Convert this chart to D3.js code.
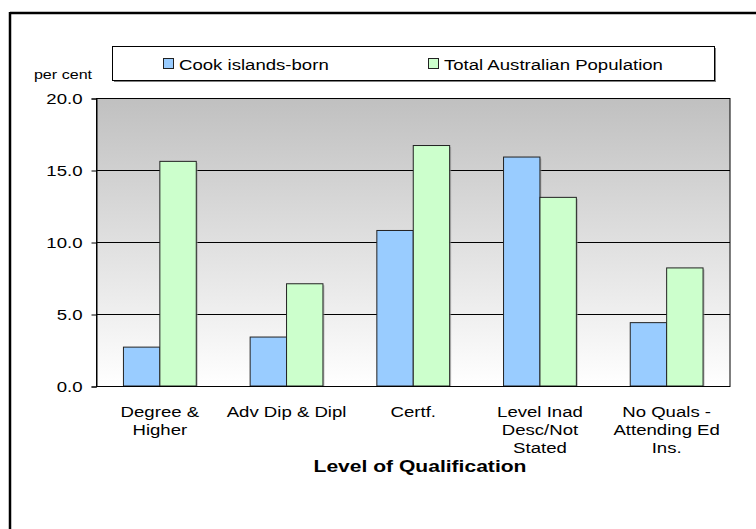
<!DOCTYPE html>
<html><head><meta charset="utf-8">
<script src="https://cdn.jsdelivr.net/npm/d3@7"></script>
<style>body{margin:0;background:#fff}svg{display:block;font-family:"Liberation Sans",Arial,sans-serif}</style>
</head><body>
<script>
const categories = [["Degree &","Higher"],["Adv Dip & Dipl"],["Certf."],["Level Inad","Desc/Not","Stated"],["No Quals -","Attending Ed","Ins."]];
const seriesNames = ["Cook islands-born","Total Australian Population"];
const cookIslands = [2.7, 3.4, 10.8, 15.9, 4.4];
const totalAustralia = [15.6, 7.1, 16.7, 13.1, 8.2];
const yTicks = [0, 5, 10, 15, 20];
const colors = ["#99ccff", "#ccffcc"];

const W = 756, H = 529;
const SX = 1.24; // horizontal stretch of the reference's text
const svg = d3.select("body").append("svg").attr("width", W).attr("height", H);
const m = {left: 96.5, right: 730, top: 98, bottom: 386};

function stext(sel, x, y, str, size, anchor, weight) {
  return sel.append("text").attr("transform", `translate(${x},${y}) scale(${SX},1)`)
    .attr("text-anchor", anchor || "start").attr("font-size", size).attr("font-weight", weight || "normal")
    .attr("fill", "#000").text(str);
}

// outer border (top and left visible)
svg.append("line").attr("x1", 10).attr("x2", W).attr("y1", 13).attr("y2", 13).attr("stroke", "#000").attr("stroke-width", 2.5);
svg.append("line").attr("x1", 10).attr("x2", 10).attr("y1", 12).attr("y2", H).attr("stroke", "#000").attr("stroke-width", 2.5);

const defs = svg.append("defs");
const grad = defs.append("linearGradient").attr("id", "bg").attr("x1", 0).attr("y1", 0).attr("x2", 0).attr("y2", 1);
grad.append("stop").attr("offset", "0%").attr("stop-color", "#c0c0c0");
grad.append("stop").attr("offset", "100%").attr("stop-color", "#ffffff");

const x0 = d3.scaleBand().domain(d3.range(categories.length)).range([m.left, m.right]).paddingInner(0).paddingOuter(0);
const x1 = d3.scaleBand().domain([0, 1]).range([0, x0.bandwidth()]).paddingOuter(0.74).paddingInner(0);
const y = d3.scaleLinear().domain([0, 20]).range([m.bottom, m.top]);

svg.append("rect").attr("x", m.left).attr("y", m.top).attr("width", m.right - m.left).attr("height", m.bottom - m.top).attr("fill", "url(#bg)");

// gridlines
svg.append("g").selectAll("line").data(yTicks.filter(d => d > 0)).join("line")
  .attr("x1", m.left).attr("x2", m.right).attr("y1", d => Math.round(y(d)) + 0.5).attr("y2", d => Math.round(y(d)) + 0.5)
  .attr("stroke", "#000").attr("stroke-width", 1);
// plot frame
svg.append("rect").attr("x", m.left).attr("y", m.top + 0.5).attr("width", m.right - m.left).attr("height", m.bottom - m.top)
  .attr("fill", "none").attr("stroke", "#000").attr("stroke-width", 1);

// bars
const data = categories.map((c, i) => [cookIslands[i], totalAustralia[i]]);
const g = svg.append("g");
data.forEach((vals, i) => {
  vals.forEach((v, s) => {
    const bx = x0(i) + x1(s), bw = x1.bandwidth();
    g.append("rect").attr("x", bx + 1.5).attr("y", y(v) + 1.5).attr("width", bw).attr("height", y(0) - y(v) - 1.5)
      .attr("fill", "#999").attr("opacity", 0.6);
  });
  vals.forEach((v, s) => {
    const bx = x0(i) + x1(s), bw = x1.bandwidth();
    g.append("rect").attr("x", bx).attr("y", y(v)).attr("width", bw).attr("height", y(0) - y(v))
      .attr("fill", colors[s]).attr("stroke", "#222").attr("stroke-width", 1);
  });
});

// x axis line
svg.append("line").attr("x1", m.left).attr("x2", m.right).attr("y1", m.bottom + 0.5).attr("y2", m.bottom + 0.5).attr("stroke", "#000");

// y axis
const yAxis = d3.axisLeft(y).tickValues(yTicks).tickFormat(d3.format(".1f")).tickSize(5).tickPadding(8);
const ya = svg.append("g").attr("transform", `translate(${m.left},0.5)`).call(yAxis);
ya.select(".domain").attr("stroke", "#000");
ya.selectAll(".tick line").attr("stroke", "#000");
ya.selectAll(".tick text").attr("x", null).attr("transform", `translate(-14,0) scale(${SX},1)`)
  .attr("font-size", 15).attr("fill", "#000").attr("font-family", '"Liberation Sans",Arial,sans-serif');

stext(svg, 63, 79, "per cent", 13, "middle");

// category labels
categories.forEach((lines, i) => {
  const cx = x0(i) + x0.bandwidth() / 2;
  lines.forEach((ln, k) => stext(svg, cx, 416.5 + k * 18, ln, 15, "middle"));
});

stext(svg, 420, 471.5, "Level of Qualification", 17, "middle", "bold");

// legend
const lg = svg.append("g");
lg.append("rect").attr("x", 114).attr("y", 48).attr("width", 602).attr("height", 34).attr("fill", "#808080");
lg.append("rect").attr("x", 112.5).attr("y", 46.5).attr("width", 602).attr("height", 34).attr("fill", "#fff").attr("stroke", "#000");
const legX = [163, 428];
seriesNames.forEach((n, s) => {
  lg.append("rect").attr("x", legX[s] + 0.5).attr("y", 58.5).attr("width", 10).attr("height", 10).attr("fill", colors[s]).attr("stroke", "#222");
  stext(lg, legX[s] + 16, 69.5, n, 15);
});
</script>
</body></html>
